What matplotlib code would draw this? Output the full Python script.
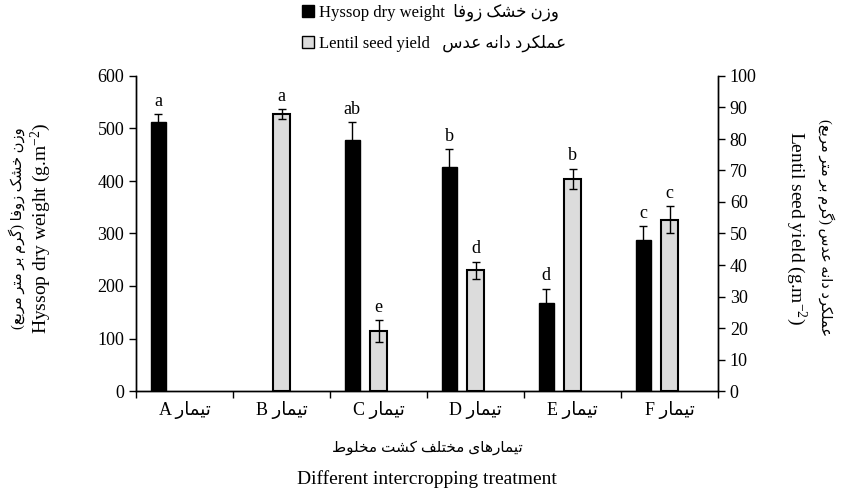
import matplotlib
matplotlib.use('Agg')
import matplotlib.pyplot as plt
from matplotlib.patches import Patch
import numpy as np

plt.rcParams['font.family'] = ['Liberation Serif', 'DejaVu Sans']
plt.rcParams['mathtext.fontset'] = 'custom'
plt.rcParams['mathtext.rm'] = 'Liberation Serif'
plt.rcParams['mathtext.it'] = 'Liberation Serif:italic'

# data
categories = ['A', 'B', 'C', 'D', 'E', 'F']
hyssop = [513, np.nan, 479, 427, 168, 288]
hyssop_err = [14, np.nan, 33, 34, 27, 26]
hyssop_letters = ['a', '', 'ab', 'b', 'd', 'c']
lentil = [np.nan, 88.0, 19.1, 38.4, 67.4, 54.4]
lentil_err = [np.nan, 1.6, 3.4, 2.7, 3.2, 4.4]
lentil_letters = ['', 'a', 'e', 'd', 'b', 'c']

# minimal Persian shaping (matplotlib has no bidi / joining)
FORMS = {
    'ت': ('\uFE95', '\uFE96', '\uFE97', '\uFE98'),
    'ی': ('\uFBFC', '\uFBFD', '\uFBFE', '\uFBFF'),
    'م': ('\uFEE1', '\uFEE2', '\uFEE3', '\uFEE4'),
    'ا': ('\uFE8D', '\uFE8E', None, None),
    'ر': ('\uFEAD', '\uFEAE', None, None),
    'ه': ('\uFEE9', '\uFEEA', '\uFEEB', '\uFEEC'),
    'و': ('\uFEED', '\uFEEE', None, None),
    'ز': ('\uFEAF', '\uFEB0', None, None),
    'ن': ('\uFEE5', '\uFEE6', '\uFEE7', '\uFEE8'),
    'خ': ('\uFEA5', '\uFEA6', '\uFEA7', '\uFEA8'),
    'ش': ('\uFEB5', '\uFEB6', '\uFEB7', '\uFEB8'),
    'ک': ('\uFB8E', '\uFB8F', '\uFB90', '\uFB91'),
    'ف': ('\uFED1', '\uFED2', '\uFED3', '\uFED4'),
    'ع': ('\uFEC9', '\uFECA', '\uFECB', '\uFECC'),
    'ل': ('\uFEDD', '\uFEDE', '\uFEDF', '\uFEE0'),
    'د': ('\uFEA9', '\uFEAA', None, None),
    'س': ('\uFEB1', '\uFEB2', '\uFEB3', '\uFEB4'),
    'گ': ('\uFB92', '\uFB93', '\uFB94', '\uFB95'),
    'ب': ('\uFE8F', '\uFE90', '\uFE91', '\uFE92'),
    'ط': ('\uFEC1', '\uFEC2', '\uFEC3', '\uFEC4'),
}


def rtl(s):
    out = []
    for i, ch in enumerate(s):
        if ch not in FORMS:
            out.append(ch)
            continue
        prev = s[i - 1] if i > 0 else ''
        nxt = s[i + 1] if i + 1 < len(s) else ''
        p = prev in FORMS and FORMS[prev][2] is not None
        n = nxt in FORMS and FORMS[ch][2] is not None
        iso, fin, ini, med = FORMS[ch]
        if p and n:
            out.append(med)
        elif p:
            out.append(fin)
        elif n:
            out.append(ini)
        else:
            out.append(iso)
    swap = {'(': ')', ')': '('}
    return ''.join(swap.get(c, c) for c in reversed(out))


fig = plt.figure(figsize=(8.44, 4.9), dpi=100)
ax = fig.add_axes([136 / 844, 1 - 391 / 490, 582 / 844, 315 / 490])
ax2 = ax.twinx()

x = np.arange(len(categories)) + 0.5
ax.bar(x - 0.27, hyssop, width=0.16, color='black', edgecolor='black', linewidth=1,
       yerr=hyssop_err, error_kw=dict(ecolor='black', elinewidth=1, capsize=3, capthick=1))
ax2.bar(x, lentil, width=0.17, color='#dcdcdc', edgecolor='black', linewidth=1.5,
        yerr=lentil_err, error_kw=dict(ecolor='black', elinewidth=1, capsize=3, capthick=1))

for xi, v, e, lab in zip(x, hyssop, hyssop_err, hyssop_letters):
    if lab:
        ax.annotate(lab, (xi - 0.27, v + e), xytext=(0, 3), textcoords='offset points',
                    ha='center', va='bottom', fontsize=13)
for xi, v, e, lab in zip(x, lentil, lentil_err, lentil_letters):
    if lab:
        ax2.annotate(lab, (xi, v + e), xytext=(0, 3), textcoords='offset points',
                     ha='center', va='bottom', fontsize=13)

ax.set_xlim(0, 6)
ax.set_ylim(0, 600)
ax2.set_ylim(0, 100)
ax.set_yticks(range(0, 601, 100))
ax2.set_yticks(range(0, 101, 10))
ax.set_xticks(range(0, 7))
ax.set_xticklabels([])
ax.set_xticks(x, minor=True)
ax.set_xticklabels(['%s %s' % (c, rtl('تیمار')) for c in categories], minor=True)
ax.tick_params(axis='x', which='major', direction='out', length=5, width=1)
ax.tick_params(axis='x', which='minor', length=0, pad=7, labelsize=13)
ax.tick_params(axis='y', direction='out', length=5, width=1, labelsize=13)
ax2.tick_params(axis='y', direction='out', length=5, width=1, labelsize=13)

for a in (ax, ax2):
    a.spines['top'].set_visible(False)
    for s in ('left', 'right', 'bottom'):
        a.spines[s].set_linewidth(1)

# axis titles, English and Persian
fig.text(17 / 844, 1 - 228 / 490, rtl('وزن خشک زوفا (گرم بر متر مربع)'), rotation=90,
         ha='center', va='center', fontsize=10.5)
fig.text(41 / 844, 1 - 228 / 490, r'Hyssop dry weight (g.m$^{-2}$)', rotation=90,
         ha='center', va='center', fontsize=14)
fig.text(796 / 844, 1 - 228 / 490, r'Lentil seed yield (g.m$^{-2}$)', rotation=-90,
         ha='center', va='center', fontsize=14)
fig.text(826 / 844, 1 - 228 / 490, rtl('عملکرد دانه عدس (گرم بر متر مربع)'), rotation=-90,
         ha='center', va='center', fontsize=10.5)
fig.text(427 / 844, 1 - 448 / 490, rtl('تیمارهای مختلف کشت مخلوط'),
         ha='center', va='center', fontsize=11)
fig.text(427 / 844, 1 - 479 / 490, 'Different intercropping treatment',
         ha='center', va='center', fontsize=14)

handles = [Patch(facecolor='black', edgecolor='black'),
           Patch(facecolor='#dcdcdc', edgecolor='black')]
labels = ['Hyssop dry weight  ' + rtl('وزن خشک زوفا'),
          'Lentil seed yield   ' + rtl('عملکرد دانه عدس')]
fig.legend(handles, labels, loc='upper left', bbox_to_anchor=(302 / 844, 1 - 4 / 490),
           frameon=False, fontsize=12, handlelength=0.7, handleheight=0.7,
           handletextpad=0.3, labelspacing=0.8, borderpad=0, borderaxespad=0)

fig.savefig('out.png', dpi=100)
